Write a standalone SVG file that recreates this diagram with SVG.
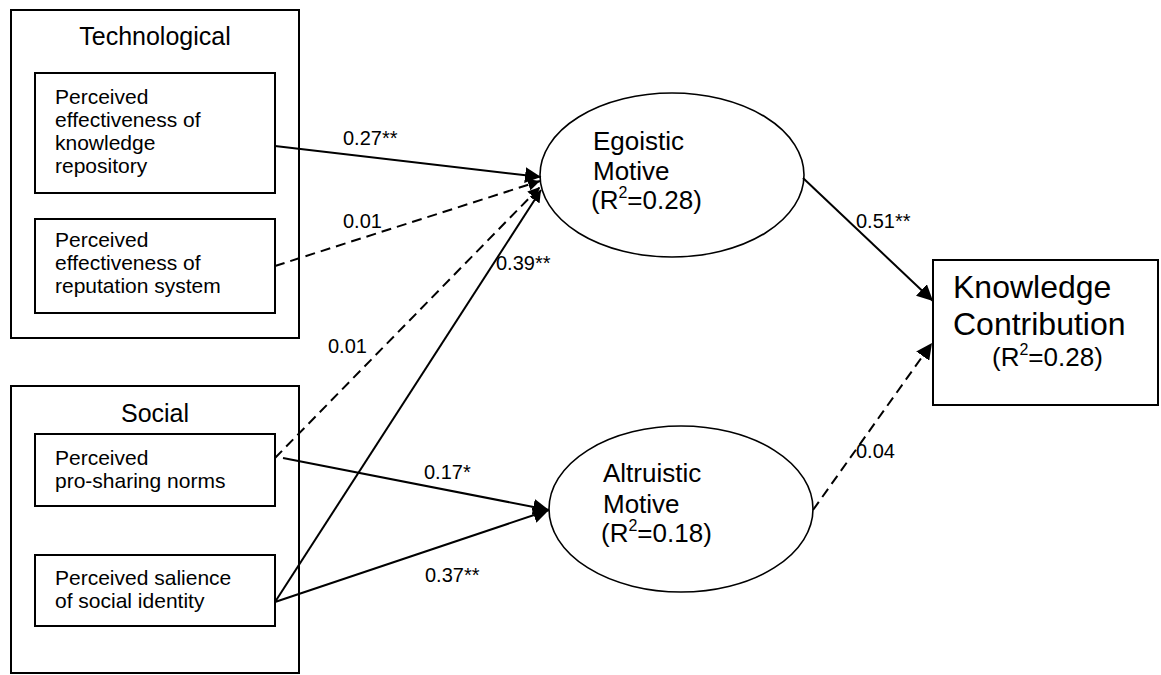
<svg xmlns="http://www.w3.org/2000/svg" width="1161" height="675" viewBox="0 0 1161 675">
<style>
text{font-family:"Liberation Sans",Arial,sans-serif;fill:#000}
.box{fill:#fff;stroke:#000;stroke-width:2}
.ell{fill:#fff;stroke:#000;stroke-width:1.6}
.t21{font-size:21px}
.t25{font-size:25px}
.t26{font-size:26px}
.t32{font-size:32px}
.lbl{font-size:20px}
.edge{fill:none;stroke:#000;stroke-width:2}
.dash{stroke-dasharray:10,6}
</style>
<defs>
<marker id="arr" markerWidth="17" markerHeight="16" refX="16" refY="8" orient="auto" markerUnits="userSpaceOnUse">
<path d="M0,0 L16,8 L0,16 z" fill="#000"/>
</marker>
<marker id="arrs" markerWidth="13" markerHeight="12" refX="12" refY="6" orient="auto" markerUnits="userSpaceOnUse">
<path d="M0,0 L12,6 L0,12 z" fill="#000"/>
</marker>
</defs>
<rect width="1161" height="675" fill="#fff"/>

<g id="technological">
<rect class="box" x="11" y="10" width="288" height="328"/>
<text class="t25" x="155" y="45" text-anchor="middle">Technological</text>
</g>
<g id="knowledge-repository">
<rect class="box" x="35" y="73" width="240" height="120"/>
<text class="t21" x="55" y="104">Perceived</text>
<text class="t21" x="55" y="127">effectiveness of</text>
<text class="t21" x="55" y="150">knowledge</text>
<text class="t21" x="55" y="173">repository</text>
</g>
<g id="reputation-system">
<rect class="box" x="35" y="219" width="240" height="94"/>
<text class="t21" x="55" y="247">Perceived</text>
<text class="t21" x="55" y="270">effectiveness of</text>
<text class="t21" x="55" y="293">reputation system</text>
</g>

<g id="social">
<rect class="box" x="11" y="386" width="288" height="287"/>
<text class="t25" x="155" y="422" text-anchor="middle">Social</text>
</g>
<g id="pro-sharing-norms">
<rect class="box" x="35" y="434" width="240" height="72"/>
<text class="t21" x="55" y="465">Perceived</text>
<text class="t21" x="55" y="488">pro-sharing norms</text>
</g>
<g id="social-identity">
<rect class="box" x="35" y="555" width="240" height="71"/>
<text class="t21" x="55" y="585">Perceived salience</text>
<text class="t21" x="55" y="608">of social identity</text>
</g>

<g id="egoistic">
<ellipse class="ell" cx="672" cy="175" rx="132" ry="82"/>
<text class="t26" x="593" y="150">Egoistic</text>
<text class="t26" x="593" y="180">Motive</text>
<text class="t26" x="591" y="209">(R<tspan font-size="16" dy="-11">2</tspan><tspan dy="11">=0.28)</tspan></text>
</g>

<g id="altruistic">
<ellipse class="ell" cx="681" cy="509" rx="132" ry="83"/>
<text class="t26" x="603" y="482">Altruistic</text>
<text class="t26" x="603" y="513">Motive</text>
<text class="t26" x="601" y="542">(R<tspan font-size="16" dy="-11">2</tspan><tspan dy="11">=0.18)</tspan></text>
</g>

<g id="knowledge-contribution">
<rect class="box" x="933" y="260" width="225" height="145"/>
<text class="t32" x="953" y="298">Knowledge</text>
<text class="t32" x="953" y="335">Contribution</text>
<text class="t26" x="992" y="366">(R<tspan font-size="16" dy="-11">2</tspan><tspan dy="11">=0.28)</tspan></text>
</g>

<g id="connectors">
<line class="edge" x1="275" y1="146" x2="541" y2="177" marker-end="url(#arr)"/>
<line class="edge dash" x1="275" y1="266" x2="540" y2="181" marker-end="url(#arrs)"/>
<line class="edge dash" x1="275" y1="458" x2="540" y2="187" marker-end="url(#arrs)"/>
<line class="edge" x1="275" y1="602" x2="541" y2="190" marker-end="url(#arrs)"/>
<line class="edge" x1="283" y1="458" x2="549" y2="510" marker-end="url(#arr)"/>
<line class="edge" x1="275" y1="602" x2="549" y2="510" marker-end="url(#arr)"/>
<line class="edge" x1="803" y1="178" x2="933" y2="301" marker-end="url(#arr)"/>
<line class="edge dash" x1="813" y1="510" x2="932" y2="343" marker-end="url(#arr)"/>

<text class="lbl" x="343" y="145">0.27**</text>
<text class="lbl" x="343" y="228">0.01</text>
<text class="lbl" x="496" y="270">0.39**</text>
<text class="lbl" x="328" y="353">0.01</text>
<text class="lbl" x="424" y="479">0.17*</text>
<text class="lbl" x="425" y="582">0.37**</text>
<text class="lbl" x="856" y="228">0.51**</text>
<text class="lbl" x="856" y="458">0.04</text>
</g>
</svg>
